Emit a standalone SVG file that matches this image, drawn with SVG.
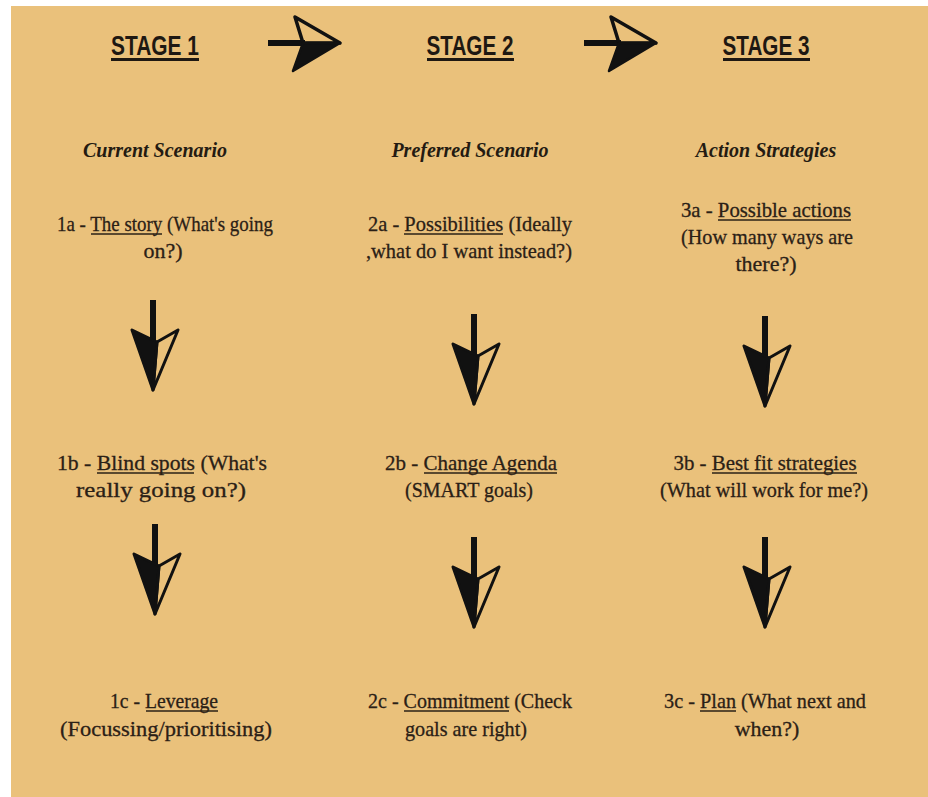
<svg xmlns="http://www.w3.org/2000/svg" width="928" height="797" viewBox="0 0 928 797">
<style>
.stage{font-family:"Liberation Sans",Arial,sans-serif;font-weight:bold;font-size:27px;fill:#1e1812;text-anchor:middle}
.head{font-family:"Liberation Serif","Times New Roman",serif;font-weight:bold;font-style:italic;font-size:20px;fill:#241b12;text-anchor:middle}
.body{font-family:"Liberation Serif","Times New Roman",serif;font-size:22px;fill:#2a2016;stroke:#2a2016;stroke-width:0.3;text-anchor:middle}
.ul{stroke:#1e1812;stroke-width:3}
.tu{stroke:#2a2016;stroke-width:1.5}
</style>
<defs>
<g id="rarrow">
<line x1="0" y1="0" x2="37" y2="0" stroke="#111" stroke-width="6"/>
<path d="M27,-26 L72,0 L35,0 Z" fill="none" stroke="#111" stroke-width="3.5" stroke-linejoin="round"/>
<path d="M35,0 L72,0 L25,28 Z" fill="#111" stroke="#111" stroke-width="2.5" stroke-linejoin="round"/>
</g>
<g id="darrow">
<line x1="0" y1="0" x2="0" y2="42" stroke="#111" stroke-width="6"/>
<path d="M-21,30 L4,42 L0,90 Z" fill="#111" stroke="#111" stroke-width="3" stroke-linejoin="round"/>
<path d="M25,30 L4,42 L0,90 Z" fill="none" stroke="#111" stroke-width="3" stroke-linejoin="round"/>
</g>
</defs>
<rect x="0" y="0" width="928" height="797" fill="#ffffff"/>
<rect x="11" y="6" width="917" height="791" fill="#eac17b"/>

<g id="stage1"><text class="stage" x="155" y="55" textLength="88" lengthAdjust="spacingAndGlyphs">STAGE 1</text><line class="ul" x1="111" y1="59.5" x2="199" y2="59.5"/></g>
<g id="stage2"><text class="stage" x="470" y="55" textLength="87" lengthAdjust="spacingAndGlyphs">STAGE 2</text><line class="ul" x1="427" y1="59.5" x2="514" y2="59.5"/></g>
<g id="stage3"><text class="stage" x="766" y="55" textLength="87" lengthAdjust="spacingAndGlyphs">STAGE 3</text><line class="ul" x1="723" y1="59.5" x2="810" y2="59.5"/></g>

<g id="head1"><text class="head" x="155" y="157">Current Scenario</text></g>
<g id="head2"><text class="head" x="470" y="157">Preferred Scenario</text></g>
<g id="head3"><text class="head" x="766" y="157">Action Strategies</text></g>

<g id="n1a"><text class="body" x="165" y="231" textLength="216" lengthAdjust="spacingAndGlyphs">1a - The story (What's going</text><line class="tu" x1="91" y1="234" x2="162" y2="234"/><text class="body" x="163" y="258">on?)</text></g>
<g id="n2a"><text class="body" x="470" y="231" textLength="204" lengthAdjust="spacingAndGlyphs">2a - Possibilities (Ideally</text><line class="tu" x1="404" y1="234" x2="503" y2="234"/><text class="body" x="469" y="258" textLength="206" lengthAdjust="spacingAndGlyphs">,what do I want instead?)</text></g>
<g id="n3a"><text class="body" x="766" y="217" textLength="170" lengthAdjust="spacingAndGlyphs">3a - Possible actions</text><line class="tu" x1="718" y1="220" x2="851" y2="220"/><text class="body" x="767" y="244" textLength="172" lengthAdjust="spacingAndGlyphs">(How many ways are</text><text class="body" x="766" y="271">there?)</text></g>

<g id="n1b"><text class="body" x="162" y="470" textLength="210" lengthAdjust="spacingAndGlyphs">1b - Blind spots (What's</text><line class="tu" x1="97" y1="473" x2="194" y2="473"/><text class="body" x="161" y="497" textLength="170" lengthAdjust="spacingAndGlyphs">really going on?)</text></g>
<g id="n2b"><text class="body" x="471" y="470" textLength="172" lengthAdjust="spacingAndGlyphs">2b - Change Agenda</text><line class="tu" x1="424" y1="473" x2="557" y2="473"/><text class="body" x="469" y="497" textLength="128" lengthAdjust="spacingAndGlyphs">(SMART goals)</text></g>
<g id="n3b"><text class="body" x="765" y="470" textLength="183" lengthAdjust="spacingAndGlyphs">3b - Best fit strategies</text><line class="tu" x1="712" y1="473" x2="857" y2="473"/><text class="body" x="764" y="497" textLength="208" lengthAdjust="spacingAndGlyphs">(What will work for me?)</text></g>

<g id="n1c"><text class="body" x="164" y="708" textLength="108" lengthAdjust="spacingAndGlyphs">1c - Leverage</text><line class="tu" x1="146" y1="711" x2="218" y2="711"/><text class="body" x="166" y="736" textLength="212" lengthAdjust="spacingAndGlyphs">(Focussing/prioritising)</text></g>
<g id="n2c"><text class="body" x="470" y="708" textLength="204" lengthAdjust="spacingAndGlyphs">2c - Commitment (Check</text><line class="tu" x1="404" y1="711" x2="509" y2="711"/><text class="body" x="466" y="736" textLength="122" lengthAdjust="spacingAndGlyphs">goals are right)</text></g>
<g id="n3c"><text class="body" x="765" y="708" textLength="202" lengthAdjust="spacingAndGlyphs">3c - Plan (What next and</text><line class="tu" x1="700" y1="711" x2="736" y2="711"/><text class="body" x="767" y="736">when?)</text></g>

<g id="connectors">
<use href="#rarrow" x="268" y="43"/>
<use href="#rarrow" x="584" y="43"/>
<use href="#darrow" x="153" y="300"/>
<use href="#darrow" x="155" y="524"/>
<use href="#darrow" x="474" y="314"/>
<use href="#darrow" x="474" y="537"/>
<use href="#darrow" x="765" y="316"/>
<use href="#darrow" x="765" y="537"/>
</g>
</svg>
